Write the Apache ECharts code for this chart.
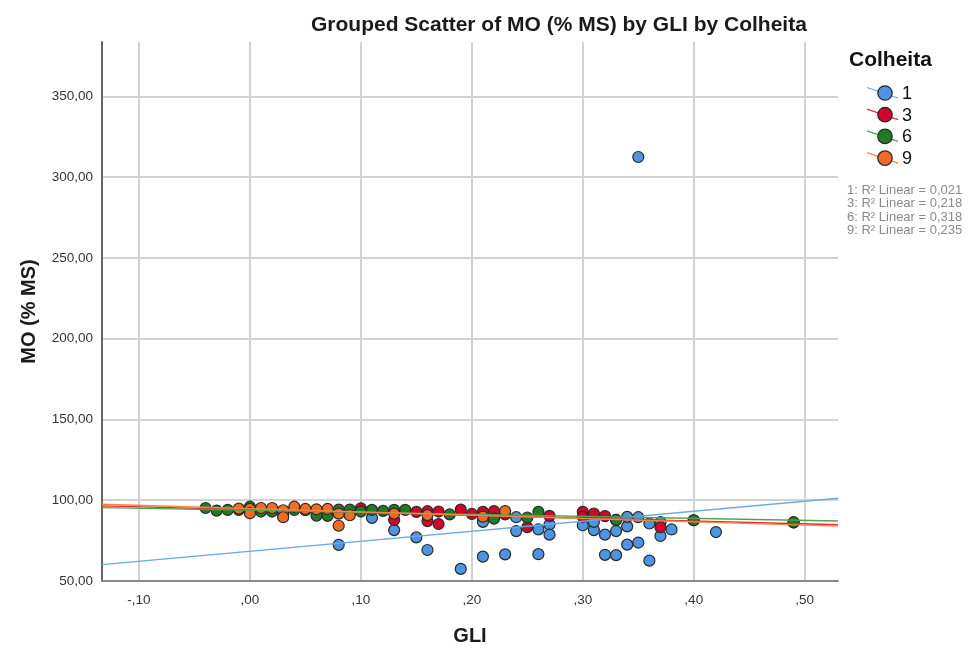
<!DOCTYPE html>
<html>
<head>
<meta charset="utf-8">
<script src="https://cdn.jsdelivr.net/npm/echarts@6/dist/echarts.min.js"></script>
<style>
  html, body { margin: 0; padding: 0; background: #fff; }
  #chart { width: 975px; height: 651px; }
</style>
</head>
<body>
<div id="chart"></div>
<script>
// Colheita groups
const groups = ['1', '3', '6', '9'];

// GLI / MO (% MS) per harvest
const gli1 = [0.08, 0.11, 0.13, 0.15, 0.16, 0.19, 0.21, 0.21, 0.23, 0.24, 0.24, 0.26, 0.26, 0.27, 0.27, 0.30, 0.31, 0.31, 0.32, 0.32, 0.33, 0.33, 0.33, 0.34, 0.34, 0.34, 0.35, 0.35, 0.35, 0.36, 0.36, 0.37, 0.37, 0.38, 0.40, 0.42, 0.49];
const mo1  = [72.4, 89.1, 81.5, 77.0, 69.2, 57.5, 65.1, 86.6, 66.5, 89.5, 80.9, 66.6, 82.0, 85.0, 78.7, 84.5, 81.5, 86.6, 78.7, 66.2, 66.0, 80.9, 87.8, 72.5, 83.8, 89.7, 73.8, 89.5, 312.5, 62.6, 85.6, 77.9, 86.4, 81.9, 87.6, 80.3, 86.2];

const gli3 = [0.10, 0.13, 0.15, 0.16, 0.16, 0.17, 0.17, 0.19, 0.20, 0.21, 0.22, 0.23, 0.25, 0.27, 0.30, 0.30, 0.31, 0.32, 0.37];
const mo3  = [95.0, 87.8, 92.8, 93.2, 87.1, 93.0, 85.3, 94.2, 91.5, 92.8, 93.3, 91.2, 83.3, 90.3, 92.8, 89.8, 91.8, 90.2, 83.3];

const gli6 = [-0.04, -0.03, -0.02, -0.01, 0.00, 0.01, 0.02, 0.03, 0.04, 0.05, 0.06, 0.07, 0.07, 0.08, 0.09, 0.10, 0.11, 0.12, 0.13, 0.14, 0.18, 0.22, 0.25, 0.26, 0.33, 0.40, 0.49];
const mo6  = [95.2, 93.6, 94.0, 94.0, 96.0, 93.0, 93.0, 91.0, 94.0, 93.8, 90.5, 92.8, 90.3, 94.2, 94.2, 93.0, 94.0, 93.4, 94.0, 94.0, 91.2, 88.6, 89.3, 92.8, 87.8, 87.6, 86.4];

const gli9 = [-0.01, 0.00, 0.00, 0.01, 0.02, 0.03, 0.03, 0.04, 0.05, 0.06, 0.07, 0.08, 0.08, 0.09, 0.13, 0.16, 0.21, 0.23];
const mo9  = [94.8, 94.6, 92.0, 95.2, 95.2, 93.8, 89.5, 96.0, 94.6, 94.4, 94.6, 91.7, 84.2, 90.7, 91.7, 90.8, 89.8, 93.3];

// linear fit per harvest: MO = intercept + slope * GLI
const fitIntercept = [68.4, 94.15, 93.75, 94.8];
const fitSlope     = [62.0, -17.6, -12.4, -20.4];
const r2Linear     = ['0,021', '0,218', '0,318', '0,235'];

// axis ticks
const xTicks = [-0.1, 0.0, 0.1, 0.2, 0.3, 0.4, 0.5];
const yTicks = [50, 100, 150, 200, 250, 300, 350];
const xMin = -0.1333, xMax = 0.53;
const yMin = 50, yMax = 383.7;

const fillColors = ['#4d94e2', '#d0062c', '#217a24', '#f26b24'];
const lineColors = ['#6aa8f0', '#e22a36', '#4fa450', '#f5883e'];

const xs = [gli1, gli3, gli6, gli9];
const ys = [mo1, mo3, mo6, mo9];

const FONT = '"Liberation Sans", Arial, sans-serif';

function fmtX(v) {
  let s = Math.abs(v).toFixed(2).replace('.', ',');
  if (s.startsWith('0,')) s = s.slice(1);
  return (v < -1e-9 ? '-' : '') + s;
}
function fmtY(v) { return v.toFixed(2).replace('.', ','); }

const series = [];
groups.forEach((g, i) => {
  series.push({
    name: g,
    type: 'scatter',
    symbol: 'circle',
    symbolSize: 11,
    z: 2,
    itemStyle: { color: fillColors[i], borderColor: '#2a2a2a', borderWidth: 1.2, opacity: 1 },
    data: xs[i].map((x, k) => [x, ys[i][k]])
  });
});
groups.forEach((g, i) => {
  series.push({
    name: g + ' fit',
    type: 'line',
    symbol: 'none',
    z: 3,
    silent: true,
    lineStyle: { color: lineColors[i], width: 1.4 },
    data: [[xMin, fitIntercept[i] + fitSlope[i] * xMin], [xMax, fitIntercept[i] + fitSlope[i] * xMax]]
  });
});

// legend drawn as graphic elements
const legendGraphics = [{
  type: 'text', x: 849, y: 60,
  style: { text: 'Colheita', font: 'bold 21px ' + FONT, fill: '#111', textVerticalAlign: 'middle' }
}];
groups.forEach((g, i) => {
  const cy = 93 + i * 21.7;
  legendGraphics.push({
    type: 'line', shape: { x1: 867, y1: cy - 5.5, x2: 898, y2: cy + 5 },
    style: { stroke: lineColors[i], lineWidth: 1.3 }, z: 10
  });
  legendGraphics.push({
    type: 'circle', shape: { cx: 885, cy: cy, r: 7.2 },
    style: { fill: fillColors[i], stroke: '#2a2a2a', lineWidth: 1.3 }, z: 11
  });
  legendGraphics.push({
    type: 'text', x: 902, y: cy + 1, z: 11,
    style: { text: g, font: '18px ' + FONT, fill: '#111', textVerticalAlign: 'middle' }
  });
});
groups.forEach((g, i) => {
  legendGraphics.push({
    type: 'text', x: 847, y: 190 + i * 13.6, z: 11,
    style: { text: g + ': R\u00B2 Linear = ' + r2Linear[i], font: '13px ' + FONT, fill: '#8a8a8a', textVerticalAlign: 'middle' }
  });
});

const chart = echarts.init(document.getElementById('chart'), null, { renderer: 'canvas' });
chart.setOption({
  animation: false,
  backgroundColor: '#ffffff',
  textStyle: { fontFamily: FONT },
  title: {
    text: 'Grouped Scatter of MO (% MS) by GLI by Colheita',
    left: 306, top: 10,
    textStyle: { fontSize: 21, fontWeight: 'bold', color: '#1a1a1a', fontFamily: FONT }
  },
  grid: { left: 102, right: 137, top: 42, bottom: 66, containLabel: false },
  xAxis: {
    type: 'value',
    min: xMin, max: xMax,
    name: 'GLI',
    nameLocation: 'middle',
    nameGap: 45,
    nameTextStyle: { fontSize: 20, fontWeight: 'bold', color: '#1a1a1a' },
    axisLine: { show: true, onZero: false, lineStyle: { color: '#888888', width: 2 } },
    axisTick: { show: false, customValues: xTicks },
    axisLabel: { customValues: xTicks, formatter: fmtX, fontSize: 13.5, color: '#333', margin: 12 },
    splitLine: { show: true, lineStyle: { color: '#d2d2d2', width: 2 } }
  },
  yAxis: {
    type: 'value',
    min: yMin, max: yMax, interval: 50,
    name: 'MO (% MS)',
    nameLocation: 'middle',
    nameRotate: 90,
    nameGap: 63,
    nameTextStyle: { fontSize: 20, fontWeight: 'bold', color: '#1a1a1a' },
    axisLine: { show: true, onZero: false, lineStyle: { color: '#666666', width: 2 } },
    axisTick: { show: false, customValues: yTicks },
    axisLabel: { customValues: yTicks, formatter: fmtY, fontSize: 13.5, color: '#333', margin: 9 },
    splitLine: { show: true, lineStyle: { color: '#d2d2d2', width: 2 } }
  },
  graphic: legendGraphics,
  series: series
});
</script>
</body>
</html>
